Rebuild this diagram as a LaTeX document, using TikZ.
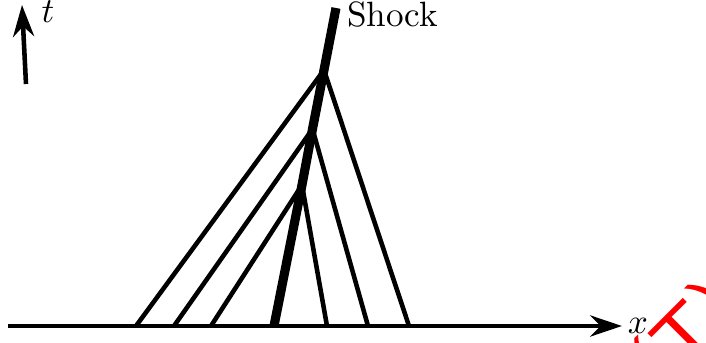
\documentclass[tikz,border=0pt]{standalone}
\usepackage{amsmath,amssymb}
\usetikzlibrary{positioning, arrows.meta}
\definecolor{stampRed}{RGB}{255,0,0}

\begin{document}
\begin{tikzpicture}[x=0.5cm, y=0.5cm,
		charline/.style={line width=1.3pt},
		shockline/.style={line width=2.6pt},
		axisline/.style={line width=1.3pt, -{Stealth[length=9pt, width=6pt]}}]
				\useasboundingbox (0,0) rectangle (14.12,6.86);
				% axes
				\coordinate (xs) at (0.16,0.34); \coordinate (xe) at (12.44,0.34);
				\coordinate (ts) at (0.52,5.18); \coordinate (te) at (0.44,6.76);
				\draw[axisline] (xs) -- (xe) node[right, inner sep=1pt] (xlab) {$x$};
				\draw[axisline] (ts) -- (te);
				\node (tlab) at (0.96,6.62) {$t$};
				% shock and interaction points
				\coordinate (s0) at (5.48,0.34); \coordinate (s4) at (6.72,6.70);
				\coordinate (pA) at (6.04,3.16); \coordinate (pB) at (6.25,4.28);
				\coordinate (pC) at (6.48,5.46);
				\draw[shockline] (s0) -- (pA) -- (pB) -- (pC) -- (s4);
				\node[anchor=west, inner sep=1pt] (shock) at (6.86,6.58) {Shock};
				% characteristics
				\coordinate (l1) at (2.72,0.34); \coordinate (l2) at (3.48,0.34);
				\coordinate (l3) at (4.22,0.34);
				\coordinate (r1) at (6.54,0.34); \coordinate (r2) at (7.36,0.34);
				\coordinate (r3) at (8.18,0.34);
				\draw[charline] (l1) -- (pC) -- (r3);
				\draw[charline] (l2) -- (pB) -- (r2);
				\draw[charline] (l3) -- (pA) -- (r1);
				% stamp
				\node[stampRed, rotate=45, font=\sffamily\Huge] (stamp) at (13.85,0.0) {(T)};
			\end{tikzpicture}
\end{document}
